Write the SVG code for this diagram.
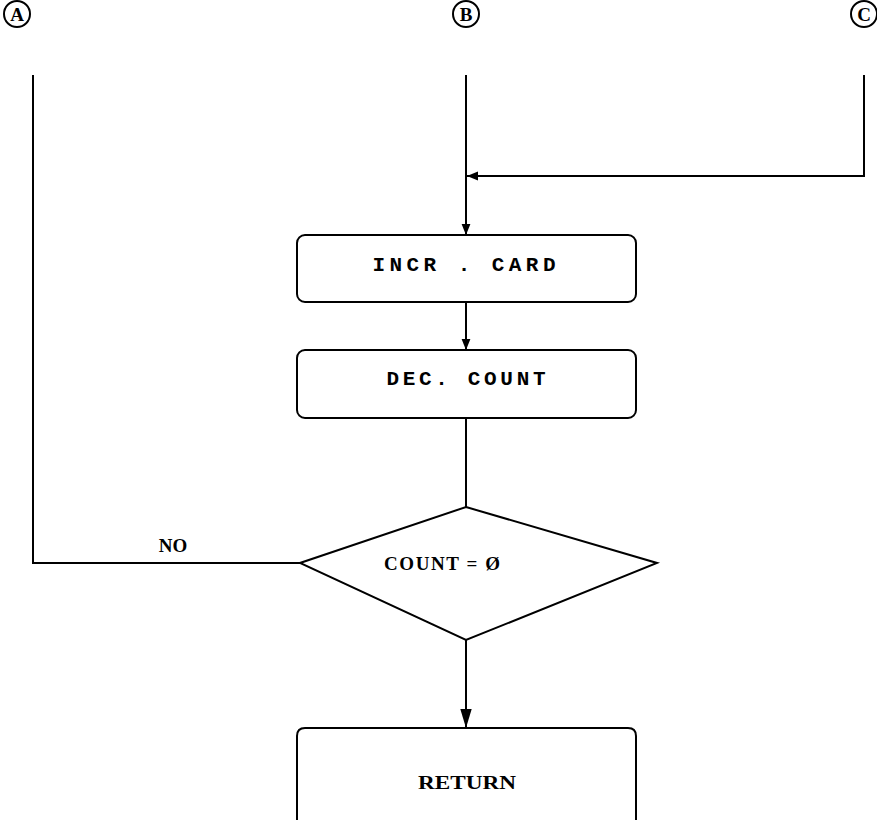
<svg xmlns="http://www.w3.org/2000/svg" width="877" height="820" viewBox="0 0 877 820">
<style>
.sh{fill:none;stroke:#000;stroke-width:2}
.ln{fill:none;stroke:#000;stroke-width:2}
.t{font-family:"Liberation Mono",monospace;font-size:21px;font-weight:bold;fill:#000}
.c{font-family:"Liberation Serif",serif;font-size:19px;font-weight:bold;fill:#000}
.s{font-family:"Liberation Serif",serif;font-size:19px;font-weight:bold;fill:#000}
</style>
<defs>
<marker id="ah" viewBox="0 0 10 10" refX="10" refY="5" markerWidth="11" markerHeight="11" markerUnits="userSpaceOnUse" orient="auto">
<path d="M0,1 L10,5 L0,9 Z" fill="#000"/>
</marker>
<marker id="ahb" viewBox="0 0 10 10" refX="10" refY="5" markerWidth="19" markerHeight="19" markerUnits="userSpaceOnUse" orient="auto">
<path d="M0,2 L10,5 L0,8 Z" fill="#000"/>
</marker>
</defs>
<rect width="877" height="820" fill="#fff"/>
<g id="connA">
<circle class="sh" cx="17" cy="14" r="13"/>
<text class="c" x="17" y="21" text-anchor="middle">A</text>
</g>
<g id="connB">
<circle class="sh" cx="466" cy="14" r="13"/>
<text class="c" x="466" y="21" text-anchor="middle">B</text>
</g>
<g id="connC">
<circle class="sh" cx="864" cy="14" r="13"/>
<text class="c" x="864" y="21" text-anchor="middle">C</text>
</g>
<g id="incr">
<rect class="sh" x="297" y="235" width="339" height="67" rx="8"/>
<text class="t" x="464" y="271" text-anchor="middle" textLength="183" lengthAdjust="spacing">INCR . CARD</text>
</g>
<g id="dec">
<rect class="sh" x="297" y="350" width="339" height="68" rx="8"/>
<text class="t" x="466" y="385" text-anchor="middle" textLength="159" lengthAdjust="spacing">DEC. COUNT</text>
</g>
<g id="cond">
<polygon class="sh" points="466,507 657,563 466,640 300,563"/>
<text class="s" x="442" y="570" text-anchor="middle" textLength="116" lengthAdjust="spacing">COUNT = Ø</text>
</g>
<g id="ret">
<path class="sh" d="M297,830 L297,736 Q297,728 305,728 L628,728 Q636,728 636,736 L636,830"/>
<text class="s" x="467" y="789" text-anchor="middle" textLength="98" lengthAdjust="spacingAndGlyphs">RETURN</text>
</g>
<g id="connectors">
<path class="ln" d="M466,75 L466,235" marker-end="url(#ah)"/>
<path class="ln" d="M864,75 L864,176 L467,176" marker-end="url(#ah)" stroke-width="2.5"/>
<path class="ln" d="M466,302 L466,350" marker-end="url(#ah)"/>
<path class="ln" d="M466,418 L466,507"/>
<path class="ln" d="M466,640 L466,728" marker-end="url(#ahb)"/>
<path class="ln" d="M300,563 L33,563 L33,75"/>
<text class="s" x="173" y="552" text-anchor="middle">NO</text>
</g>
</svg>
